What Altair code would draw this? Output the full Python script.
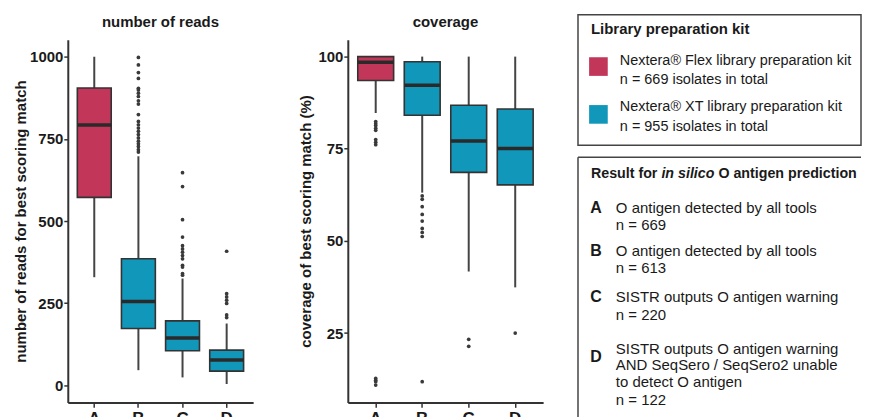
import altair as alt
import pandas as pd

FONT = "Liberation Sans"
INK = "#1a1a1a"

# ---------------- data ----------------
groups = ["A", "B", "C", "D"]
group_kit = ["Flex", "XT", "XT", "XT"]
kit_domain = ["Flex", "XT"]
kit_colors = ["#C23659", "#1197BA"]

# number of reads: whisker low, Q1, median, Q3, whisker high
reads_lo = [329, 46, 24, 4]
reads_q1 = [572, 173, 105, 43]
reads_med = [792, 255, 144, 77]
reads_q3 = [905, 385, 196, 107]
reads_hi = [1000, 697, 325, 188]
reads_out_A = []
reads_out_B = [998, 975, 952, 934, 904, 899, 889, 879, 866, 856, 824, 803, 793,
               783, 773, 763, 753, 743, 735, 727, 717, 710]
reads_out_C = [647, 605, 504, 451, 425, 415, 405, 395, 385, 365, 360, 340, 335]
reads_out_D = [408, 279, 269, 259, 249, 214, 206]

# coverage (%)
cov_lo = [84.7, 63.1, 41.7, 37.4]
cov_q1 = [93.5, 84.1, 68.6, 65.2]
cov_med = [98.5, 92.2, 77.1, 75.1]
cov_q3 = [100.0, 98.6, 86.8, 85.8]
cov_hi = [100.0, 100.0, 100.0, 100.0]
cov_out_A = [82.4, 81.8, 81.3, 80.6, 80.0, 77.5, 76.8, 76.1, 12.7, 12.2, 11.8, 10.9]
cov_out_B = [62.2, 61.3, 59.3, 57.2, 55.4, 53.4, 52.3, 51.2, 11.8]
cov_out_C = [23.3, 21.4]
cov_out_D = [25.0]

reads_ticks = [0, 250, 500, 750, 1000]
cov_ticks = [25, 50, 75, 100]

# legend texts
kit_title = "Library preparation kit"
kit_names = ["Nextera\u00ae Flex library preparation kit",
             "Nextera\u00ae XT library preparation kit"]
kit_totals = ["n = 669 isolates in total", "n = 955 isolates in total"]

result_title = ["Result for", "in silico", "O antigen prediction"]
result_desc = [["O antigen detected by all tools"],
               ["O antigen detected by all tools"],
               ["SISTR outputs O antigen warning"],
               ["SISTR outputs O antigen warning",
                "AND SeqSero / SeqSero2 unable",
                "to detect O antigen"]]
result_n = [669, 613, 220, 122]

# ---------------- layout of the legend panel (pixels from its plot origin) ----------------
LEG_W, LEG_H = 284, 364
kit_box = {"x": 0, "x2": LEG_W, "y": -25, "y2": 106}
kit_title_pos = (13, -11)
kit_swatch_x = 20.5
kit_swatch_y = [27, 75]
kit_text_x = 42
kit_line_y = [[21, 40], [68, 88]]

res_top, res_bottom = 118, 400
res_title_x = [13, 83.7, 140.9]
res_title_y = 135
res_letter_x = 18
res_letter_y = [169, 212, 258, 318]
res_text_x = 38
res_line_y = [[169, 186], [212, 229], [258, 276], [310, 327, 344, 362]]


# ---------------- box plot panels ----------------
def stats_frame(lo, q1, med, q3, hi):
    return pd.DataFrame({"group": groups, "kit": group_kit, "lo": lo, "q1": q1,
                         "med": med, "q3": q3, "hi": hi})


def out_frame(outs):
    rows = []
    for g, vals in zip(groups, outs):
        for v in vals:
            rows.append({"group": g, "value": v})
    return pd.DataFrame(rows)


def box_panel(stats, outs, ydom, yticks, ytitle, title, width, boxw, title_pad):
    x = alt.X("group:N",
              scale=alt.Scale(domain=groups, paddingInner=0, paddingOuter=0.1),
              axis=alt.Axis(title=None, labelAngle=0, labelFontSize=17,
                            labelFontWeight="bold", labelColor=INK, tickSize=5,
                            tickColor="#333", tickWidth=1.5, domainColor="#333",
                            domainWidth=2, labelPadding=3, grid=False))
    yscale = alt.Scale(domain=ydom, nice=False, zero=False)
    yaxis = alt.Axis(values=yticks, title=ytitle, format="d", titleFontSize=15,
                     titleFontWeight="bold", titleColor=INK, labelFontSize=15,
                     labelFontWeight="bold", labelColor=INK, tickSize=4,
                     tickColor="#333", tickWidth=1.5, domainColor="#333",
                     domainWidth=2, labelPadding=1, titlePadding=title_pad,
                     grid=False)
    base = alt.Chart(stats)
    whisk = base.mark_rule(color="#444", strokeWidth=2).encode(
        x=x, y=alt.Y("lo:Q", scale=yscale, axis=yaxis), y2="hi:Q")
    box = base.mark_bar(size=boxw, stroke="#333", strokeWidth=1.6, opacity=1).encode(
        x=x, y=alt.Y("q1:Q", scale=yscale), y2="q3:Q",
        color=alt.Color("kit:N", scale=alt.Scale(domain=kit_domain, range=kit_colors),
                        legend=None))
    med = base.mark_tick(size=boxw, thickness=3.5, color="#2a2a2a", opacity=1).encode(
        x=x, y=alt.Y("med:Q", scale=yscale))
    pts = alt.Chart(out_frame(outs)).mark_circle(size=14, color="#3a3a3a", opacity=1).encode(
        x=x, y=alt.Y("value:Q", scale=yscale))
    return alt.layer(whisk, box, med, pts).properties(
        width=width, height=364,
        title=alt.TitleParams(title, fontSize=15, fontWeight="bold", color=INK,
                              offset=10, font=FONT))


left = box_panel(stats_frame(reads_lo, reads_q1, reads_med, reads_q3, reads_hi),
                 [reads_out_A, reads_out_B, reads_out_C, reads_out_D],
                 [-52, 1052], reads_ticks, "number of reads for best scoring match",
                 "number of reads", 186, 34, 1)
right = box_panel(stats_frame(cov_lo, cov_q1, cov_med, cov_q3, cov_hi),
                  [cov_out_A, cov_out_B, cov_out_C, cov_out_D],
                  [6.2, 104.6], cov_ticks, "coverage of best scoring match (%)",
                  "coverage", 196, 36, 4)

# ---------------- legend panel ----------------
sx = alt.Scale(domain=[0, LEG_W], nice=False, zero=False)
sy = alt.Scale(domain=[0, LEG_H], reverse=True, nice=False, zero=False)
PX = alt.X("px:Q", scale=sx, axis=None)
PY = alt.Y("py:Q", scale=sy, axis=None)


def text_layer(df, size, weight="normal", style="normal", align="left"):
    return alt.Chart(df).mark_text(align=align, baseline="middle", font=FONT,
                                   fontSize=size, fontWeight=weight, fontStyle=style,
                                   color=INK).encode(x=PX, y=PY, text="text:N")


kit_frame = pd.DataFrame([{"px": kit_box["x"], "px2": kit_box["x2"],
                           "py": kit_box["y"], "py2": kit_box["y2"]}])
kit_bold = pd.DataFrame([{"px": kit_title_pos[0], "py": kit_title_pos[1], "text": kit_title}])
kit_reg_rows = []
for i in range(2):
    kit_reg_rows.append({"px": kit_text_x, "py": kit_line_y[i][0], "text": kit_names[i]})
    kit_reg_rows.append({"px": kit_text_x, "py": kit_line_y[i][1], "text": kit_totals[i]})
kit_reg = pd.DataFrame(kit_reg_rows)
kit_sw = pd.DataFrame({"px": [kit_swatch_x] * 2, "py": kit_swatch_y, "kit": kit_domain})

res_left = pd.DataFrame([{"px": 0, "py": res_top, "py2": res_bottom}])
res_topline = pd.DataFrame([{"px": 0, "px2": LEG_W, "py": res_top}])
title_norm = pd.DataFrame({"px": [res_title_x[0], res_title_x[2]],
                           "py": [res_title_y] * 2,
                           "text": [result_title[0], result_title[2]]})
title_ital = pd.DataFrame({"px": [res_title_x[1]], "py": [res_title_y],
                           "text": [result_title[1]]})
letter_rows = pd.DataFrame({"px": [res_letter_x] * 4, "py": res_letter_y, "text": groups})
desc_rows = []
for i in range(4):
    lines = result_desc[i] + ["n = %d" % result_n[i]]
    for ln, yy in zip(lines, res_line_y[i]):
        desc_rows.append({"px": res_text_x, "py": yy, "text": ln})
desc_rows = pd.DataFrame(desc_rows)

legend_panel = alt.layer(
    alt.Chart(kit_frame).mark_rect(fill="transparent", stroke="#444", strokeWidth=1.5).encode(
        x=PX, x2="px2:Q", y=PY, y2="py2:Q"),
    alt.Chart(kit_sw).mark_square(size=350, opacity=1).encode(
        x=PX, y=PY,
        color=alt.Color("kit:N", scale=alt.Scale(domain=kit_domain, range=kit_colors),
                        legend=None)),
    text_layer(kit_bold, 15, "bold"),
    text_layer(kit_reg, 14.5),
    alt.Chart(res_left).mark_rule(color="#444", strokeWidth=1.5).encode(
        x=PX, y=PY, y2="py2:Q"),
    alt.Chart(res_topline).mark_rule(color="#444", strokeWidth=1.5).encode(
        x=PX, x2="px2:Q", y=PY),
    text_layer(title_norm, 14.3, "bold"),
    text_layer(title_ital, 14.3, "bold", "italic"),
    text_layer(letter_rows, 16, "bold", align="center"),
    text_layer(desc_rows, 15),
).properties(width=LEG_W, height=LEG_H)

boxes = alt.hconcat(left, right, spacing=45)
chart = alt.hconcat(boxes, legend_panel, spacing=34).properties(
    padding={"left": 5, "top": 5, "right": 0, "bottom": 5}
).configure(font=FONT, background="white").configure_view(strokeWidth=0)

chart.save("out.html", embed_options={"renderer": "svg", "actions": False})
